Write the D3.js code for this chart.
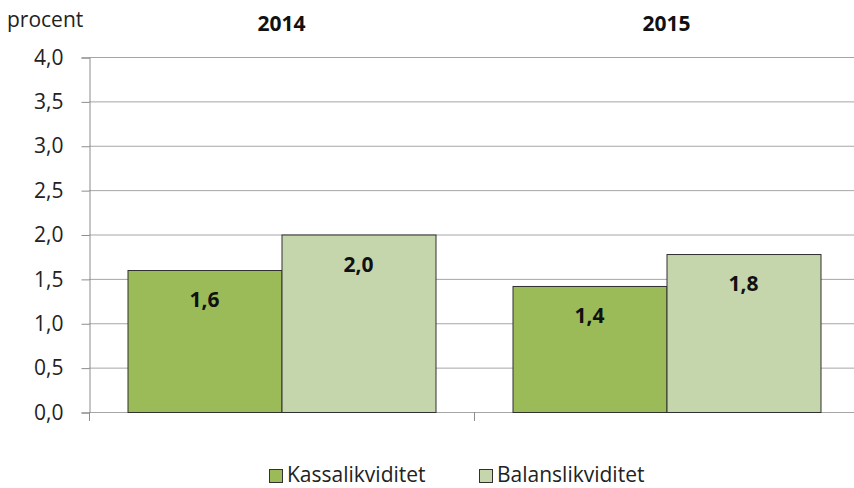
<!DOCTYPE html>
<html>
<head>
<meta charset="utf-8">
<script src="https://cdn.jsdelivr.net/npm/d3@7"></script>
<style>
  body { margin: 0; background: #fff; }
  svg { display: block; font-family: "Open Sans", Lato, sans-serif; }
</style>
</head>
<body>
<svg id="chart" width="854" height="488"></svg>
<script>
// data
const years = ["2014", "2015"]
const kassalikviditet = [1.6, 1.42]
const balanslikviditet = [2.0, 1.78]
const seriesNames = ["Kassalikviditet", "Balanslikviditet"]
const yTicks = [0, 0.5, 1, 1.5, 2, 2.5, 3, 3.5, 4]

const colors = { Kassalikviditet: "#9bbb59", Balanslikviditet: "#c6d6ac" }
const fontSize = "21px"

let svg = d3.select("#chart")
let margin = {top: 57, left: 89, plotRight: 859, bottom: 412}

let rows = years.map((yr, i) => ({
  year: yr,
  values: [
    {key: "Kassalikviditet", value: kassalikviditet[i]},
    {key: "Balanslikviditet", value: balanslikviditet[i]}
  ]
}))

// scales
let x0 = d3.scaleBand().domain(years).range([margin.left, margin.plotRight])
let x1 = d3.scaleBand().domain(seriesNames).range([0, x0.bandwidth()]).paddingOuter(0.25)
let y = d3.scaleLinear().domain([0, 4]).range([margin.bottom, margin.top])

const fmt = (v) => d3.format(".1f")(v).replace(".", ",")

// gridlines
svg.append("g")
  .selectAll("line")
  .data(yTicks)
  .enter().append("line")
    .attr("x1", margin.left)
    .attr("x2", margin.plotRight)
    .attr("y1", d => y(d) + 0.5)
    .attr("y2", d => y(d) + 0.5)
    .attr("stroke", "#a6a6a6")
    .attr("stroke-width", 1)

// y axis
let yAxis = svg.append("g")
    .attr("transform", "translate(" + (margin.left + 0.5) + ",0.5)")
    .call(d3.axisLeft(y).tickValues(yTicks).tickSize(8).tickPadding(18).tickFormat(fmt))
yAxis.select(".domain").attr("stroke", "#8c8c8c")
yAxis.selectAll(".tick line").attr("stroke", "#8c8c8c")
yAxis.selectAll(".tick text")
    .attr("fill", "#222")
    .style("font-family", "'Open Sans', Lato, sans-serif")
    .style("font-size", fontSize)

// category tick marks below the axis
svg.append("g")
  .selectAll("line")
  .data([margin.left, x0("2015"), margin.plotRight])
  .enter().append("line")
    .attr("x1", d => d + 0.5)
    .attr("x2", d => d + 0.5)
    .attr("y1", margin.bottom)
    .attr("y2", margin.bottom + 9)
    .attr("stroke", "#8c8c8c")

// bars
let group = svg.selectAll(".year")
  .data(rows)
  .enter().append("g")
    .attr("class", "year")
    .attr("transform", d => "translate(" + x0(d.year) + ",0)")

group.selectAll("rect")
  .data(d => d.values)
  .enter().append("rect")
    .attr("x", d => x1(d.key) + 0.5)
    .attr("y", d => y(d.value) + 0.5)
    .attr("width", x1.bandwidth())
    .attr("height", d => y(0) - y(d.value))
    .attr("fill", d => colors[d.key])
    .attr("stroke", "#303030")
    .attr("stroke-width", 1)

// value labels
group.selectAll(".val")
  .data(d => d.values)
  .enter().append("text")
    .attr("class", "val")
    .attr("x", d => x1(d.key) + x1.bandwidth() / 2)
    .attr("y", d => y(d.value) + 37)
    .attr("text-anchor", "middle")
    .style("font-size", fontSize)
    .style("font-weight", "bold")
    .attr("fill", "#111")
    .text(d => fmt(d.value))

// year headings
svg.selectAll(".yr")
  .data(years)
  .enter().append("text")
    .attr("class", "yr")
    .attr("x", d => x0(d) + x0.bandwidth() / 2)
    .attr("y", 31)
    .attr("text-anchor", "middle")
    .style("font-size", fontSize)
    .style("font-weight", "bold")
    .attr("fill", "#111")
    .text(d => d)

// unit label
svg.append("text")
  .attr("x", 7)
  .attr("y", 27)
  .style("font-size", fontSize)
  .attr("fill", "#222")
  .text("procent")

// legend
let legend = svg.selectAll(".legend")
  .data(seriesNames)
  .enter().append("g")
    .attr("class", "legend")
    .attr("transform", (d, i) => "translate(" + [269, 479][i] + ",469)")

legend.append("rect")
  .attr("x", 0.5)
  .attr("y", 0.5)
  .attr("width", 13)
  .attr("height", 13)
  .attr("fill", d => colors[d])
  .attr("stroke", "#303030")

legend.append("text")
  .attr("x", 18)
  .attr("y", 13)
  .style("font-size", fontSize)
  .attr("fill", "#222")
  .text(d => d)
</script>
</body>
</html>
